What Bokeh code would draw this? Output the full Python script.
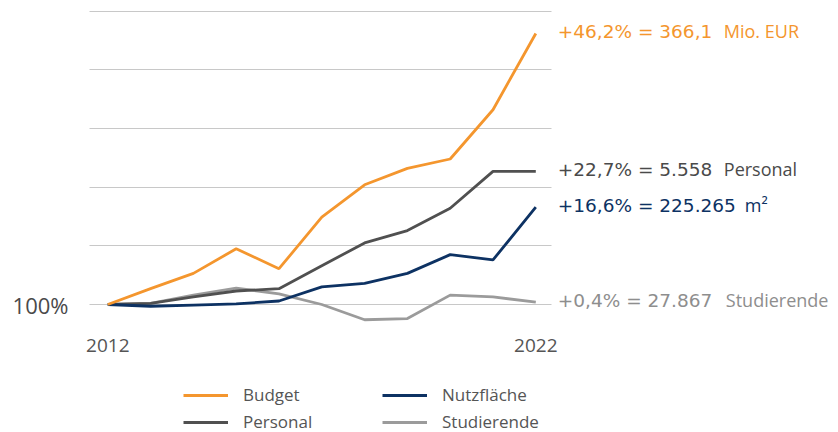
from bokeh.plotting import figure
from bokeh.models import FixedTicker, Label, Legend, LegendItem, Range1d
from bokeh.embed import file_html
from bokeh.resources import INLINE

# ---- data ----
years = [2012, 2013, 2014, 2015, 2016, 2017, 2018, 2019, 2020, 2021, 2022]
budget = [100.0, 102.7, 105.3, 109.5, 106.1, 114.9, 120.4, 123.2, 124.8, 133.2, 146.2]
personal = [100.0, 100.2, 101.3, 102.3, 102.7, 106.6, 110.5, 112.6, 116.4, 122.7, 122.7]
nutzflaeche = [100.0, 99.7, 99.9, 100.1, 100.6, 103.0, 103.6, 105.3, 108.5, 107.6, 116.6]
studierende = [100.0, 100.2, 101.6, 102.8, 101.8, 100.0, 97.4, 97.6, 101.6, 101.3, 100.4]

series_names = ["Budget", "Personal", "Nutzfläche", "Studierende"]
end_main = ["+46,2% = 366,1", "+22,7% = 5.558", "+16,6% = 225.265", "+0,4% = 27.867"]
end_unit = ["Mio. EUR", "Personal", "m²", "Studierende"]
x_ticks = [2012, 2022]
y_grid = [100, 110, 120, 130, 140, 150]
y_tick_label = {100: "100%"}

# ---- style ----
FONT = "Open Sans"
FONT_NUM = "DejaVu Sans"
c_budget = "#F4962E"
c_personal = "#505050"
c_nutz = "#0D3263"
c_stud = "#9B9B9B"
label_colors = ["#F4962E", "#4A4A4A", "#0D3263", "#8E8E8E"]

W, H = 838, 432
PX_YR = 42.8
PX_PCT = 5.867
FRAME_LEFT = 76
x0 = 2012 - (107.3 - FRAME_LEFT) / PX_YR
x_grid_start = 2012 - 18.3 / PX_YR
x_grid_end = 2022 + 15.7 / PX_YR
y_axis_pos = 100 - 22 / PX_PCT
p = figure(width=W, height=H, output_backend="svg", toolbar_location=None,
           x_range=Range1d(x0, x0 + (W - FRAME_LEFT) / PX_YR),
           y_range=Range1d(100 - 128 / PX_PCT, 100 + 304 / PX_PCT),
           min_border_left=FRAME_LEFT, min_border_right=0, min_border_top=0,
           min_border_bottom=0)
p.outline_line_color = None
p.background_fill_color = "white"
p.border_fill_color = "white"

p.xgrid.grid_line_color = None
grid = p.ygrid[0]
grid.ticker = FixedTicker(ticks=y_grid)
grid.grid_line_color = "#C8C8C8"
grid.grid_line_width = 1
grid.cross_bounds = (x_grid_start, x_grid_end)

xa = p.xaxis[0]
xa.fixed_location = y_axis_pos
xa.ticker = FixedTicker(ticks=x_ticks)
xa.axis_line_color = None
xa.major_tick_line_color = None
xa.minor_tick_line_color = None
xa.major_label_standoff = 6
xa.major_label_text_font = FONT
xa.major_label_text_font_size = "19px"
xa.major_label_text_color = "#555555"

ya = p.yaxis[0]
ya.ticker = FixedTicker(ticks=[100])
ya.major_label_overrides = y_tick_label
ya.axis_line_color = None
ya.major_tick_line_color = None
ya.minor_tick_line_color = None
ya.major_tick_out = 0
ya.major_tick_in = 0
ya.major_label_standoff = 8
ya.major_label_text_font = FONT
ya.major_label_text_font_size = "22px"
ya.major_label_text_color = "#4A4A4A"

lw = 2.8
r_stud = p.line(years, studierende, line_color=c_stud, line_width=lw)
r_pers = p.line(years, personal, line_color=c_personal, line_width=lw)
r_nutz = p.line(years, nutzflaeche, line_color=c_nutz, line_width=lw)
r_budg = p.line(years, budget, line_color=c_budget, line_width=lw)

# end labels
end_vals = [budget[-1], personal[-1], nutzflaeche[-1], studierende[-1]]
unit_off = [188, 188, 209, 190]
for i in range(4):
    p.add_layout(Label(x=years[-1], y=end_vals[i], x_offset=22, y_offset=2,
                       text=end_main[i], text_baseline="middle",
                       text_font=FONT_NUM, text_font_size="18.5px",
                       text_color=label_colors[i]))
    p.add_layout(Label(x=years[-1], y=end_vals[i], x_offset=unit_off[i], y_offset=2,
                       text=end_unit[i], text_baseline="middle",
                       text_font=FONT, text_font_size="18px",
                       text_color=label_colors[i]))

legend = Legend(items=[LegendItem(label=series_names[0], renderers=[r_budg]),
                       LegendItem(label=series_names[1], renderers=[r_pers]),
                       LegendItem(label=series_names[2], renderers=[r_nutz]),
                       LegendItem(label=series_names[3], renderers=[r_stud])],
                ncols=2, location=(183 - FRAME_LEFT, -1), padding=0, margin=0, spacing=4,
                glyph_width=45, glyph_height=20, label_height=20,
                label_width=135, label_standoff=15,
                label_text_font=FONT, label_text_font_size="17px",
                label_text_color="#555555",
                border_line_color=None, background_fill_alpha=0)
p.add_layout(legend, "center")

open("out.html", "w").write(file_html(p, INLINE))
